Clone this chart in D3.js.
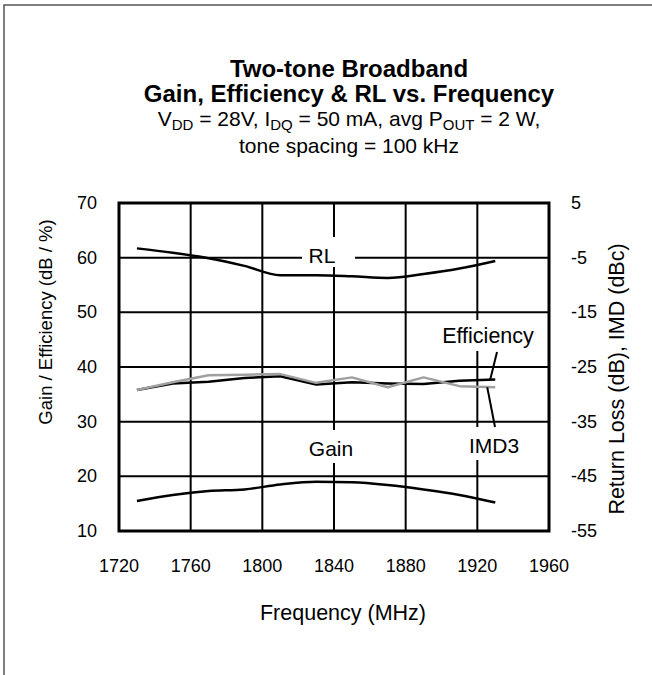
<!DOCTYPE html>
<html>
<head>
<meta charset="utf-8">
<style>
body { margin: 0; background: #fff; }
svg text { font-family: Arial, "Liberation Sans", sans-serif; fill: #000; }
.grid line { stroke: #000; stroke-width: 2; }
.series { fill: none; stroke-width: 2.5; stroke-linejoin: round; }
</style>
<script src="https://cdn.jsdelivr.net/npm/d3@7/dist/d3.min.js"></script>
</head>
<body>
<svg width="652" height="675"></svg>
<script>
// values (MHz)
var freq = [1730, 1750, 1770, 1790, 1810, 1830, 1850, 1870, 1890, 1910, 1930];
var gain = [15.5, 16.6, 17.3, 17.6, 18.5, 19.0, 18.9, 18.4, 17.6, 16.6, 15.2];
var efficiency = [35.8, 37.0, 37.3, 38.0, 38.3, 36.8, 37.2, 37.0, 36.9, 37.5, 37.7];
var imd3 = [-29.2, -27.8, -26.5, -26.4, -26.3, -27.9, -26.9, -28.7, -26.9, -28.5, -28.7];
var returnLoss = [-3.3, -4.1, -5.1, -6.5, -8.2, -8.2, -8.4, -8.7, -8.0, -7.0, -5.6];

var xTicks = [1720, 1760, 1800, 1840, 1880, 1920, 1960];
var leftTicks = [10, 20, 30, 40, 50, 60, 70];
var rightTicks = [-55, -45, -35, -25, -15, -5, 5];

var svg = d3.select("svg");

// outer frame (only top/left edges fall inside the picture)
svg.append("rect")
    .attr("x", 4).attr("y", 5).attr("width", 1000).attr("height", 1000)
    .attr("fill", "none").attr("stroke", "#555").attr("stroke-width", 1.5);

var L = 119, R = 549, T = 203, B = 531;

var x = d3.scaleLinear().domain([1720, 1960]).range([L, R]);
var yL = d3.scaleLinear().domain([10, 70]).range([B, T]);
var yR = d3.scaleLinear().domain([-55, 5]).range([B, T]);

// titles
var cx = 349;
svg.append("text").attr("x", cx).attr("y", 77).attr("text-anchor", "middle")
    .style("font-size", "24px").style("font-weight", "bold").text("Two-tone Broadband");
svg.append("text").attr("x", cx).attr("y", 102).attr("text-anchor", "middle")
    .style("font-size", "24px").style("font-weight", "bold").text("Gain, Efficiency & RL vs. Frequency");

var sub = svg.append("text").attr("x", cx).attr("y", 126).attr("text-anchor", "middle")
    .style("font-size", "21px");
sub.append("tspan").text("V");
sub.append("tspan").attr("dy", 4).style("font-size", "15px").text("DD");
sub.append("tspan").attr("dy", -4).text(" = 28V, I");
sub.append("tspan").attr("dy", 4).style("font-size", "15px").text("DQ");
sub.append("tspan").attr("dy", -4).text(" = 50 mA, avg P");
sub.append("tspan").attr("dy", 4).style("font-size", "15px").text("OUT");
sub.append("tspan").attr("dy", -4).text(" = 2 W,");

svg.append("text").attr("x", cx).attr("y", 153).attr("text-anchor", "middle")
    .style("font-size", "21px").text("tone spacing = 100 kHz");

// grid
var grid = svg.append("g").attr("class", "grid");
grid.selectAll(".gx").data(xTicks.slice(1, -1)).enter().append("line")
    .attr("x1", function(d) { return x(d); }).attr("x2", function(d) { return x(d); })
    .attr("y1", T).attr("y2", B);
grid.selectAll(".gy").data(leftTicks.slice(1, -1)).enter().append("line")
    .attr("x1", L).attr("x2", R)
    .attr("y1", function(d) { return yL(d); }).attr("y2", function(d) { return yL(d); });

svg.append("rect").attr("x", L).attr("y", T).attr("width", R - L).attr("height", B - T)
    .attr("fill", "none").attr("stroke", "#000").attr("stroke-width", 3);

// label backgrounds
function labelBox(x0, y0, w, h) {
  svg.append("rect").attr("x", x0).attr("y", y0).attr("width", w).attr("height", h).attr("fill", "#fff");
}
labelBox(302, 237, 53, 30);
labelBox(300, 430, 62, 33);
labelBox(436, 320, 104, 31);
labelBox(462, 427, 64, 33);

// axes tick labels
svg.append("g").selectAll("text").data(xTicks).enter().append("text")
    .attr("x", function(d) { return x(d); }).attr("y", 572)
    .attr("text-anchor", "middle").style("font-size", "18px").text(function(d) { return d; });
svg.append("g").selectAll("text").data(leftTicks).enter().append("text")
    .attr("x", 97).attr("y", function(d) { return yL(d) + 6; })
    .attr("text-anchor", "end").style("font-size", "18px").text(function(d) { return d; });
svg.append("g").selectAll("text").data(rightTicks).enter().append("text")
    .attr("x", 571).attr("y", function(d) { return yR(d) + 6; })
    .attr("text-anchor", "start").style("font-size", "18px").text(function(d) { return d; });

svg.append("text").attr("x", 343).attr("y", 620).attr("text-anchor", "middle")
    .style("font-size", "21.5px").text("Frequency (MHz)");
svg.append("text").attr("transform", "translate(52,322) rotate(-90)").attr("text-anchor", "middle")
    .style("font-size", "18.5px").text("Gain / Efficiency (dB / %)");
svg.append("text").attr("transform", "translate(624,379) rotate(-90)").attr("text-anchor", "middle")
    .style("font-size", "21.5px").text("Return Loss (dB), IMD (dBc)");

// series
function lineFor(vals, y, curve) {
  return d3.line()
      .x(function(d, i) { return x(freq[i]); })
      .y(function(d) { return y(d); })
      .curve(curve)(vals);
}
svg.append("path").attr("class", "series").attr("stroke", "#000")
    .attr("d", lineFor(returnLoss, yR, d3.curveMonotoneX));
svg.append("path").attr("class", "series").attr("stroke", "#000")
    .attr("d", lineFor(gain, yL, d3.curveMonotoneX));
svg.append("path").attr("class", "series").attr("stroke", "#000")
    .attr("d", lineFor(efficiency, yL, d3.curveLinear));
svg.append("path").attr("class", "series").attr("stroke", "#a0a0a0")
    .attr("d", lineFor(imd3, yR, d3.curveLinear));

// series labels + leaders
svg.append("text").attr("x", 322).attr("y", 263).attr("text-anchor", "middle")
    .style("font-size", "21px").text("RL");
svg.append("text").attr("x", 331).attr("y", 456).attr("text-anchor", "middle")
    .style("font-size", "21px").text("Gain");
svg.append("text").attr("x", 488).attr("y", 343).attr("text-anchor", "middle")
    .style("font-size", "21.5px").text("Efficiency");
svg.append("text").attr("x", 494).attr("y", 453).attr("text-anchor", "middle")
    .style("font-size", "21px").text("IMD3");

svg.append("line").attr("x1", 497).attr("y1", 352).attr("x2", x(1930) - 5).attr("y2", yL(efficiency[10]))
    .attr("stroke", "#000").attr("stroke-width", 2);
svg.append("line").attr("x1", 495).attr("y1", 427).attr("x2", x(1930) - 8).attr("y2", yR(imd3[10]))
    .attr("stroke", "#000").attr("stroke-width", 2);
</script>
</body>
</html>
